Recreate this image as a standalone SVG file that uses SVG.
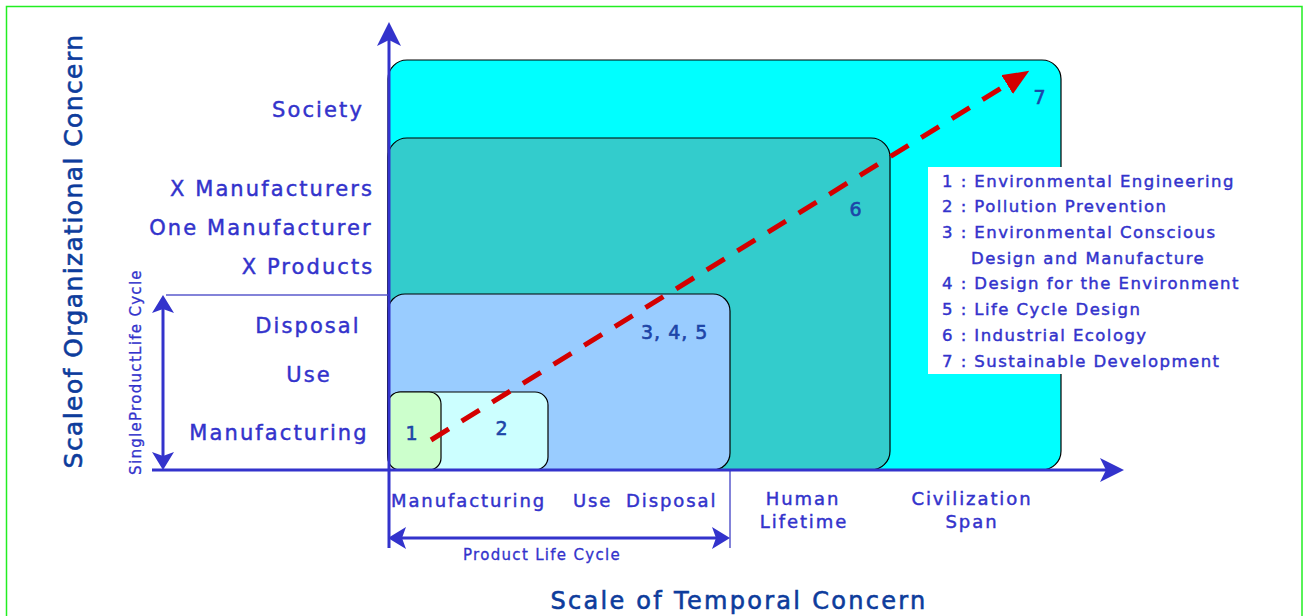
<svg xmlns="http://www.w3.org/2000/svg" width="1304" height="616" viewBox="0 0 1304 616">
<style>
  .lbl{font-family:"DejaVu Sans","Liberation Sans",sans-serif;fill:#3333CC;stroke:#3333CC;stroke-width:0.45px;}
  .big{font-size:21px;letter-spacing:2.1px;}
  .mid{font-size:18px;letter-spacing:1.9px;}
  .leg{font-size:16.5px;letter-spacing:1.45px;}
  .sm{font-size:15px;letter-spacing:1.3px;stroke-width:0.3px;}
  .num{font-family:"DejaVu Sans","Liberation Sans",sans-serif;font-size:19px;fill:#1D45A8;stroke:#1D45A8;stroke-width:0.6px;letter-spacing:1px;}
  .title{font-family:"DejaVu Sans","Liberation Sans",sans-serif;fill:#0D3C9C;stroke:#0D3C9C;stroke-width:0.6px;}
  .box{stroke:#000;stroke-width:1.2;}
  .axis{stroke:#3333CC;stroke-width:3;fill:none;}
  .thin{stroke:#5A5ACC;stroke-width:1.5;fill:none;}
</style>
<defs>
  <marker id="ah" viewBox="0 0 24 24" markerWidth="24" markerHeight="24" markerUnits="userSpaceOnUse" refX="12" refY="12" orient="auto-start-reverse">
    <path d="M24,12 L0,0 L6,12 L0,24 Z" fill="#3333CC"/>
  </marker>
  <marker id="ah2" viewBox="0 0 18 22" markerWidth="18" markerHeight="22" markerUnits="userSpaceOnUse" refX="8" refY="11" orient="auto-start-reverse">
    <path d="M18,11 L0,0 L4,11 L0,22 Z" fill="#3333CC"/>
  </marker>
  <marker id="rh" viewBox="0 0 26 22" markerWidth="26" markerHeight="22" markerUnits="userSpaceOnUse" refX="1" refY="11" orient="auto">
    <path d="M26,11 L0,0 L0,22 Z" fill="#D40000"/>
  </marker>
</defs>
<rect x="6.5" y="6.5" width="1295.5" height="640" fill="#fff" stroke="#22EE22" stroke-width="1.5"/>

<g id="node-7"><rect class="box" x="388" y="60" width="673" height="410" rx="19" fill="#00FFFF"/></g>
<g id="node-6"><rect class="box" x="388" y="138" width="502" height="332" rx="19" fill="#33CCCC"/></g>
<g id="node-345"><rect class="box" x="388" y="294" width="342" height="176" rx="17" fill="#99CCFF"/></g>
<g id="node-2"><rect class="box" x="388" y="392" width="160" height="78" rx="13" fill="#CCFFFF"/></g>
<g id="node-1"><rect class="box" x="388" y="392" width="53" height="78" rx="12" fill="#CCFFCC"/></g>

<g id="connectors">
  <path d="M431,440 L1008,84" stroke="#D40000" stroke-width="5" stroke-dasharray="21 15" fill="none" marker-end="url(#rh)"/>
  <line class="thin" x1="166" y1="295" x2="389" y2="295"/>
  <line class="thin" x1="730" y1="470" x2="730" y2="548"/>
  <line class="axis" x1="152" y1="470" x2="1112" y2="470" marker-end="url(#ah)"/>
  <line class="axis" x1="389" y1="548" x2="389" y2="34" marker-end="url(#ah)"/>
  <line class="axis" x1="163" y1="305" x2="163" y2="460" marker-start="url(#ah2)" marker-end="url(#ah2)"/>
  <line class="axis" x1="398" y1="538" x2="720" y2="538" marker-start="url(#ah2)" marker-end="url(#ah2)"/>
</g>

<g id="legend">
  <rect x="928" y="167" width="334" height="207" fill="#fff"/>
  <text class="lbl leg" x="942" y="187">1 : Environmental Engineering</text>
  <text class="lbl leg" x="942" y="212">2 : Pollution Prevention</text>
  <text class="lbl leg" x="942" y="238">3 : Environmental Conscious</text>
  <text class="lbl leg" x="971" y="264">Design and Manufacture</text>
  <text class="lbl leg" x="942" y="289">4 : Design for the Environment</text>
  <text class="lbl leg" x="942" y="315">5 : Life Cycle Design</text>
  <text class="lbl leg" x="942" y="341">6 : Industrial Ecology</text>
  <text class="lbl leg" x="942" y="367">7 : Sustainable Development</text>
</g>

<g id="numbers">
  <text class="num" x="412" y="440" text-anchor="middle">1</text>
  <text class="num" x="502" y="435" text-anchor="middle">2</text>
  <text class="num" x="641" y="339">3, 4, 5</text>
  <text class="num" x="856" y="216" text-anchor="middle">6</text>
  <text class="num" x="1040" y="104" text-anchor="middle">7</text>
</g>

<g id="y-labels">
  <text class="lbl big" x="318" y="117" text-anchor="middle">Society</text>
  <text class="lbl big" x="272" y="196" text-anchor="middle">X Manufacturers</text>
  <text class="lbl big" x="261" y="235" text-anchor="middle">One Manufacturer</text>
  <text class="lbl big" x="308" y="274" text-anchor="middle">X Products</text>
  <text class="lbl big" x="308" y="333" text-anchor="middle">Disposal</text>
  <text class="lbl big" x="309" y="382" text-anchor="middle">Use</text>
  <text class="lbl big" x="279" y="440" text-anchor="middle">Manufacturing</text>
  <text class="lbl sm" transform="translate(141,372) rotate(-90)" text-anchor="middle">SingleProductLife Cycle</text>
</g>

<g id="x-labels">
  <text class="lbl mid" x="391" y="507">Manufacturing</text>
  <text class="lbl mid" x="573" y="507">Use</text>
  <text class="lbl mid" x="626" y="507">Disposal</text>
  <text class="lbl mid" x="803" y="505" text-anchor="middle">Human</text>
  <text class="lbl mid" x="804" y="528" text-anchor="middle">Lifetime</text>
  <text class="lbl mid" x="972" y="505" text-anchor="middle">Civilization</text>
  <text class="lbl mid" x="972" y="528" text-anchor="middle">Span</text>
  <text class="lbl sm" x="542" y="560" text-anchor="middle">Product Life Cycle</text>
</g>

<g id="titles">
  <text class="title" x="739" y="609" font-size="24" letter-spacing="2.3" text-anchor="middle">Scale of Temporal Concern</text>
  <text class="title" transform="translate(82,251) rotate(-90)" font-size="25" letter-spacing="1.4" text-anchor="middle">Scaleof Organizational Concern</text>
</g>
</svg>
